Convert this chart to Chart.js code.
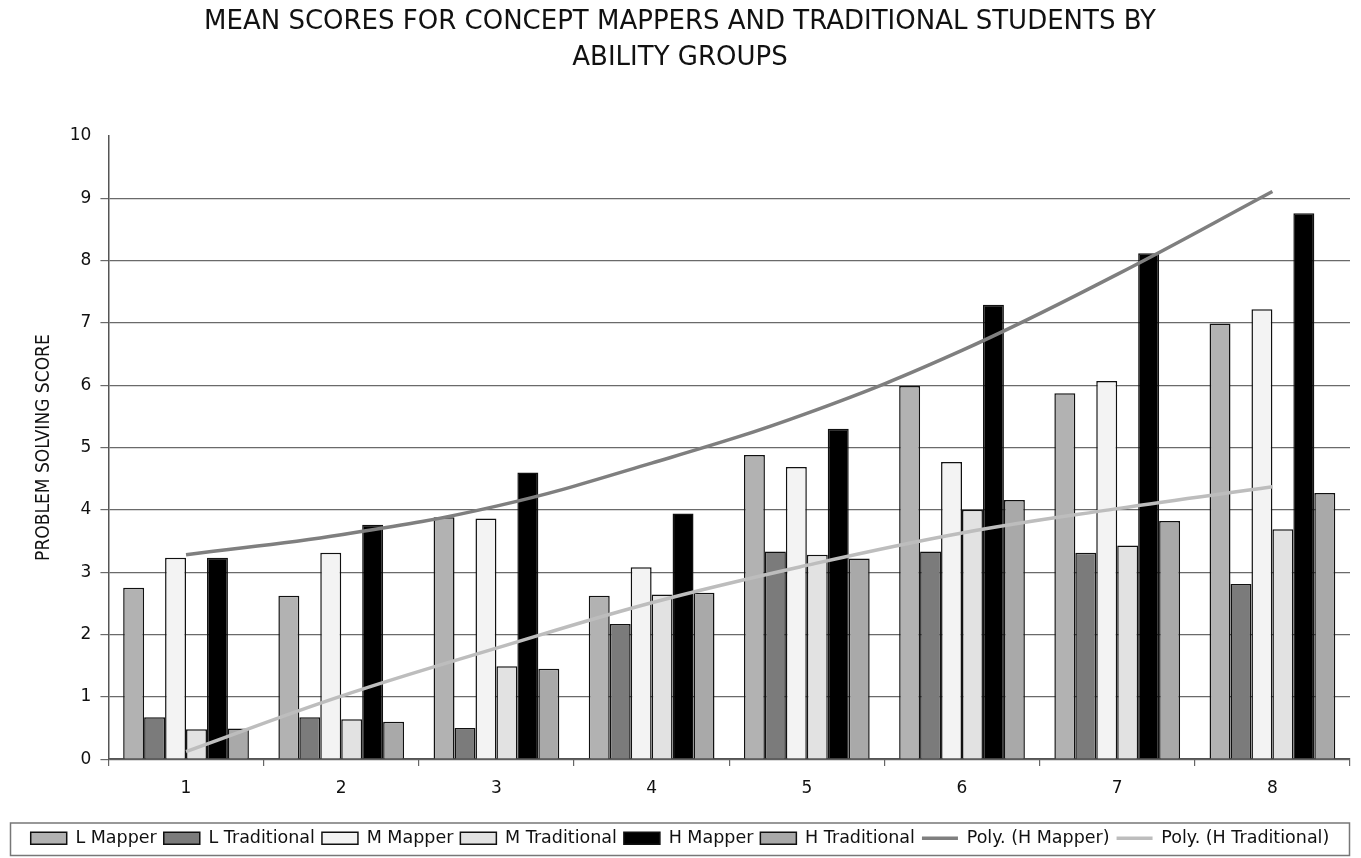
<!DOCTYPE html>
<html>
<head>
<meta charset="utf-8">
<script src="https://cdn.jsdelivr.net/npm/chart.js@4/dist/chart.umd.min.js"></script>
<style>
  html, body { margin: 0; padding: 0; background: #ffffff; }
  #wrap { width: 1361px; height: 858px; position: relative; }
</style>
</head>
<body>
<div id="wrap"><canvas id="c" width="1361" height="858"></canvas></div>
<script>
const categories = ['1', '2', '3', '4', '5', '6', '7', '8'];
const lMapper      = [2.75, 2.62, 3.88, 2.62, 4.88, 5.99, 5.87, 6.99];
const lTraditional = [0.67, 0.67, 0.50, 2.17, 3.33, 3.33, 3.31, 2.81];
const mMapper      = [3.23, 3.31, 3.86, 3.08, 4.69, 4.77, 6.07, 7.22];
const mTraditional = [0.48, 0.64, 1.49, 2.64, 3.28, 4.00, 3.43, 3.69];
const hMapper      = [3.23, 3.76, 4.60, 3.94, 5.30, 7.29, 8.12, 8.76];
const hTraditional = [0.49, 0.60, 1.45, 2.67, 3.22, 4.16, 3.82, 4.27];
const polyHMapper      = [3.28, 3.60, 4.06, 4.75, 5.55, 6.56, 7.78, 9.11];
const polyHTraditional = [0.12, 1.01, 1.78, 2.51, 3.11, 3.63, 4.02, 4.37];
const yTicks = [0, 1, 2, 3, 4, 5, 6, 7, 8, 9, 10];

const CONDENSED = '"DejaVu Sans Condensed", "Liberation Sans Narrow", "Roboto Condensed", "DejaVu Sans", sans-serif';
const WIDE = '"DejaVu Sans", Verdana, sans-serif';

const legendBorder = {
  id: 'legendBorder',
  afterDraw(chart) {
    const l = chart.legend;
    if (!l) return;
    const ctx = chart.ctx;
    ctx.save();
    ctx.strokeStyle = '#777';
    ctx.lineWidth = 1.5;
    ctx.strokeRect(l.left + 0.5, l.top + 0.5, l.width - 1, l.height - 2);
    ctx.restore();
  }
};

function bar(label, data, color) {
  return {
    type: 'bar', label, data,
    backgroundColor: color, borderColor: '#111', borderWidth: 1.5,
    pointStyle: 'rect',
    categoryPercentage: 0.81, barPercentage: 1.0, order: 2
  };
}
function line(label, data, color) {
  return {
    type: 'line', label, data,
    borderColor: color, backgroundColor: color, borderWidth: 3.5,
    pointRadius: 0, pointStyle: 'line', tension: 0.4, fill: false, order: 1
  };
}

new Chart(document.getElementById('c'), {
  data: {
    labels: categories,
    datasets: [
      bar('L Mapper', lMapper, '#b2b2b2'),
      bar('L Traditional', lTraditional, '#7b7b7b'),
      bar('M Mapper', mMapper, '#f3f3f3'),
      bar('M Traditional', mTraditional, '#e2e2e2'),
      bar('H Mapper', hMapper, '#000000'),
      bar('H Traditional', hTraditional, '#a9a9a9'),
      line('Poly. (H Mapper)', polyHMapper, '#7f7f7f'),
      line('Poly. (H Traditional)', polyHTraditional, '#bdbdbd')
    ]
  },
  options: {
    responsive: false,
    animation: false,
    devicePixelRatio: 1,
    layout: { padding: { left: 10, right: 11, top: 4, bottom: 1 } },
    plugins: {
      title: {
        display: true,
        text: ['MEAN SCORES FOR CONCEPT MAPPERS AND TRADITIONAL STUDENTS BY', 'ABILITY GROUPS'],
        color: '#111',
        font: { family: WIDE, size: 26, weight: 'normal', lineHeight: 1.385 },
        padding: { top: 0, bottom: 60 }
      },
      legend: {
        position: 'bottom',
        labels: {
          color: '#111',
          font: { family: WIDE, size: 17.5 },
          usePointStyle: true,
          pointStyleWidth: 36,
          boxHeight: 12,
          padding: 7,
          sort: (a, b) => a.datasetIndex - b.datasetIndex
        }
      },
      tooltip: { enabled: false }
    },
    scales: {
      x: {
        offset: true,
        afterFit(scale) { scale.height += 12; },
        grid: { display: true, offset: true, drawOnChartArea: false, drawTicks: true, tickLength: 7, color: '#666', lineWidth: 1.2 },
        border: { display: true, color: '#555', width: 1.5 },
        ticks: { color: '#111', font: { family: WIDE, size: 17 }, padding: 12 }
      },
      y: {
        min: 0, max: 10,
        afterBuildTicks(scale) { scale.ticks = yTicks.map(v => ({ value: v })); },
        grid: {
          color: ctx => (ctx.tick && ctx.tick.value === 10) ? 'rgba(0,0,0,0)' : '#6a6a6a',
          lineWidth: 1.2, drawTicks: true, tickLength: 8
        },
        border: { display: true, color: '#555', width: 1.5 },
        ticks: { color: '#111', font: { family: WIDE, size: 17 }, padding: 9, stepSize: 1 },
        title: {
          display: true, text: 'PROBLEM SOLVING SCORE', color: '#111',
          font: { family: CONDENSED, size: 19 }, padding: { top: 23, bottom: 5 }
        }
      }
    }
  },
  plugins: [legendBorder]
});
</script>
</body>
</html>
